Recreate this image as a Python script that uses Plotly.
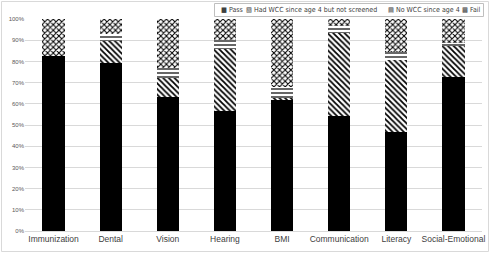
import plotly.graph_objects as go

categories = ["Immunization", "Dental", "Vision", "Hearing", "BMI",
              "Communication", "Literacy", "Social-Emotional"]
pass_vals = [82.5, 79.3, 63.3, 56.6, 62.2, 54.1, 46.7, 72.7]
not_screened = [0.0, 10.2, 8.7, 29.2, 0.5, 39.4, 33.9, 15.0]
no_wcc = [0.0, 3.5, 4.7, 4.2, 5.0, 3.2, 3.9, 0.8]
fail_vals = [17.5, 7.0, 23.3, 10.0, 32.3, 3.3, 15.5, 11.5]
legend_names = ["Pass", "Had WCC since age 4 but not screened", "No WCC since age 4", "Fail"]
legend_glyphs = ["■", "▧", "▤", "▩"]

patterns = ["", "\\", "-", "x"]
values = [pass_vals, not_screened, no_wcc, fail_vals]

fig = go.Figure()
for name, vals, shape in zip(legend_names, values, patterns):
    if shape == "":
        marker = dict(color="black", line=dict(width=0))
    else:
        sol = 0.3 if shape == "-" else 0.45
        marker = dict(color="black", line=dict(width=0),
                      pattern=dict(shape=shape, fgcolor="black", bgcolor="white",
                                   size=4, solidity=sol, fillmode="replace"))
    fig.add_trace(go.Bar(x=categories, y=[v / 100 for v in vals], name=name,
                         marker=marker, showlegend=False))

W, H = 490, 253
ml, mr, mt, mb = 25, 8, 19, 22
pw, ph = W - ml - mr, H - mt - mb


def px_x(px):
    return (px - ml) / pw


def px_y(py):
    return (H - mb - py) / ph


# manual legend box and entries
legend_x = [219, 244, 386, 460]
annotations = []
for gx, glyph, name in zip(legend_x, legend_glyphs, legend_names):
    annotations.append(dict(xref="paper", yref="paper", x=px_x(gx), y=px_y(9.5),
                            xanchor="left", yanchor="middle", showarrow=False,
                            text=glyph + " " + name,
                            font=dict(size=7, color="#404040", family="DejaVu Sans Condensed, Liberation Sans")))

shapes = [
    dict(type="rect", xref="paper", yref="paper",
         x0=px_x(1.5), x1=px_x(W - 1.5), y0=px_y(H - 1.5), y1=px_y(1.5),
         line=dict(color="#d9d9d9", width=1), layer="below"),
    dict(type="rect", xref="paper", yref="paper",
         x0=px_x(214.5), x1=px_x(483.5), y0=px_y(16.5), y1=px_y(3.5),
         line=dict(color="#bfbfbf", width=1), fillcolor="white", layer="above"),
]

fig.update_layout(
    width=W, height=H, barmode="stack", bargap=0.61,
    margin=dict(l=ml, r=mr, t=mt, b=mb, autoexpand=False),
    paper_bgcolor="white", plot_bgcolor="white",
    font=dict(family="Liberation Sans", color="#404040"),
    showlegend=False,
    xaxis=dict(showgrid=False, showline=True, linecolor="#d9d9d9", ticks="",
               tickfont=dict(size=8.5, color="#404040")),
    yaxis=dict(range=[0, 1], tickformat=".0%", dtick=0.1, showgrid=True,
               gridcolor="#d9d9d9", gridwidth=1, zeroline=False, showline=False,
               tickfont=dict(size=6, color="#595959"), ticks=""),
    shapes=shapes,
    annotations=annotations,
)

fig.write_html("out.html")
